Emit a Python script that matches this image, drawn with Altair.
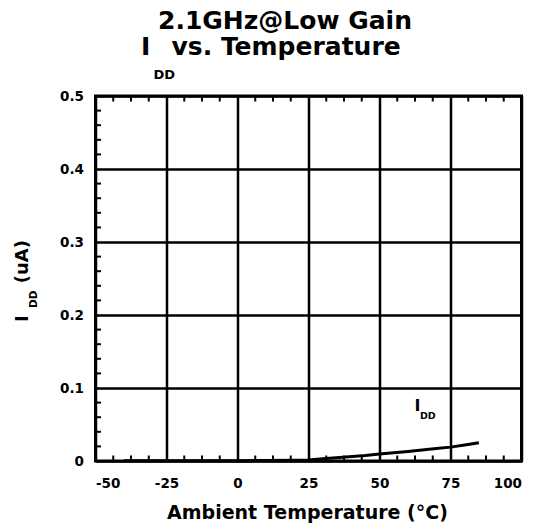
import altair as alt
import pandas as pd

# ---- data ----
temp = [-40, -30, -20, -10, 0, 10, 20, 25, 30, 37, 45, 50, 60, 70, 75, 80, 85]
idd = [0.0003, 0.0003, 0.0003, 0.0004, 0.0005, 0.0007, 0.001, 0.0015, 0.003,
       0.005, 0.0075, 0.0095, 0.013, 0.017, 0.019, 0.022, 0.025]
x_ticks = [-50, -25, 0, 25, 50, 75, 100]
y_ticks = [0, 0.1, 0.2, 0.3, 0.4, 0.5]
x_minor = [-43.75, -37.5, -31.25, -18.75, -12.5, -6.25, 6.25, 12.5, 18.75,
           31.25, 37.5, 43.75, 56.25, 62.5, 68.75, 81.25, 87.5, 93.75]
y_minor = [0.02, 0.04, 0.06, 0.08, 0.12, 0.14, 0.16, 0.18, 0.22, 0.24, 0.26,
           0.28, 0.32, 0.34, 0.36, 0.38, 0.42, 0.44, 0.46, 0.48]
label_pos = {"T": [62.3], "I": [0.0685]}

W, H = 426, 365
FONT = "DejaVu Sans"

df = pd.DataFrame({"T": temp, "I": idd})
xs = alt.Scale(domain=[-50, 100], nice=False, zero=False)
ys = alt.Scale(domain=[0, 0.5], nice=False)

x_axis = alt.Axis(
    values=x_ticks, labelExpr="'' + datum.value", grid=True,
    gridColor="black", gridWidth=2.5, gridOpacity=1, domain=False,
    ticks=False, tickSize=0, labelFont=FONT, labelFontWeight="bold",
    labelFontSize=13.5, labelColor="black", labelPadding=15, title=None)
y_axis = alt.Axis(
    values=y_ticks, labelExpr="'' + datum.value", grid=True,
    gridColor="black", gridWidth=2.5, gridOpacity=1, domain=False,
    ticks=False, tickSize=0, labelFont=FONT, labelFontWeight="bold",
    labelFontSize=13.5, labelColor="black", labelPadding=12, title=None)

line = alt.Chart(df).mark_line(color="black", strokeWidth=3).encode(
    x=alt.X("T:Q", scale=xs, axis=x_axis),
    y=alt.Y("I:Q", scale=ys, axis=y_axis),
)

xm = pd.DataFrame({"v": x_minor})
ym = pd.DataFrame({"v": y_minor})
bottom_minor = alt.Chart(xm).mark_rule(color="black", strokeWidth=2).encode(
    x=alt.X("v:Q", scale=xs, axis=x_axis), y=alt.value(H), y2=alt.value(H - 5.5))
top_minor = alt.Chart(xm).mark_rule(color="black", strokeWidth=2).encode(
    x=alt.X("v:Q", scale=xs, axis=x_axis), y=alt.value(0), y2=alt.value(5.5))
left_minor = alt.Chart(ym).mark_rule(color="black", strokeWidth=2).encode(
    y=alt.Y("v:Q", scale=ys, axis=y_axis), x=alt.value(0), x2=alt.value(5.5))

lab = pd.DataFrame(label_pos)
lab_I = alt.Chart(lab).mark_text(font=FONT, fontWeight="bold", fontSize=16,
                                  align="left", baseline="alphabetic",
                                  color="black", text="I").encode(
    x=alt.X("T:Q", scale=xs, axis=x_axis), y=alt.Y("I:Q", scale=ys, axis=y_axis))
lab_DD = alt.Chart(lab).mark_text(font=FONT, fontWeight="bold", fontSize=9.5,
                                   align="left", baseline="alphabetic",
                                   color="black", text="DD", dx=5.5, dy=8).encode(
    x=alt.X("T:Q", scale=xs, axis=x_axis), y=alt.Y("I:Q", scale=ys, axis=y_axis))


def txt(s, x, y, size, align="left", angle=0):
    return alt.Chart(pd.DataFrame({"s": [s]})).mark_text(
        font=FONT, fontWeight="bold", fontSize=size, align=align,
        baseline="alphabetic", angle=angle, color="black").encode(
        text="s:N", x=alt.value(x), y=alt.value(y))


texts = [
    txt("2.1GHz@Low Gain", 189.5, -67, 25, align="center"),
    txt("I", 45.5, -41, 25),
    txt("DD", 58, -17, 13),
    txt("vs. Temperature", 76, -41, 25),
    txt("Ambient Temperature (°C)", 212, 423, 19, align="center"),
    txt("I", -67.5, 226, 18, angle=270),
    txt("DD", -58.5, 212, 10.5, angle=270),
    txt("(uA)", -67.5, 144, 18, align="right", angle=270),
]

chart = alt.layer(line, bottom_minor, top_minor, left_minor, lab_I, lab_DD,
                  *texts).properties(
    width=W, height=H,
    autosize=alt.AutoSizeParams(type="none"),
    padding={"left": 87.5, "top": 88, "right": 12, "bottom": 63},
    background="white",
).configure_view(stroke="black", strokeWidth=3)

chart.save("out.html", embed_options={"renderer": "svg", "actions": False})
